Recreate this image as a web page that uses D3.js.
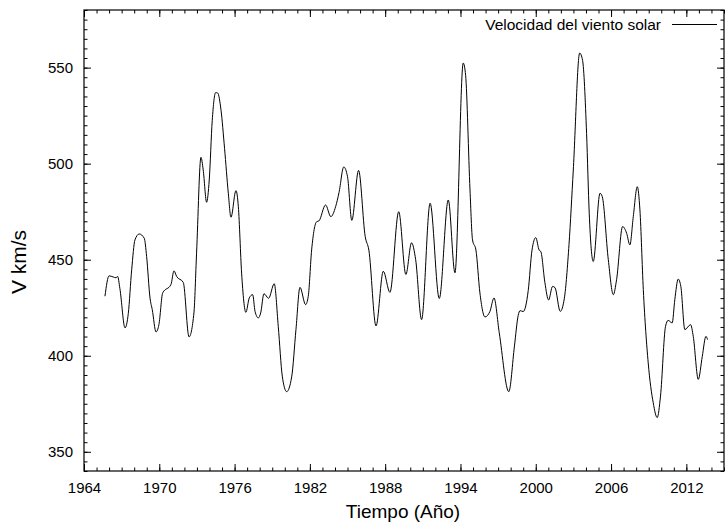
<!DOCTYPE html>
<html>
<head>
<meta charset="utf-8">
<script src="https://cdn.jsdelivr.net/npm/d3@7"></script>
<style>
  body { margin: 0; background: #fff; }
  text { font-family: "Liberation Sans", Arial, Helvetica, sans-serif; }
</style>
</head>
<body>
<svg></svg>
<script>
//svg size
const width = 726;
const height = 523;

//data: solar wind speed
var years = [1965.67, 1966.0, 1966.33, 1966.55, 1966.68, 1966.86, 1967.27, 1967.53, 1967.8, 1968.06,
             1968.4, 1968.8, 1968.99, 1969.26, 1969.44, 1969.74, 1969.97, 1970.27, 1970.93, 1971.17,
             1971.38, 1971.91, 1972.37, 1972.76, 1972.97, 1973.32, 1973.5, 1973.77, 1973.98, 1974.22,
             1974.49, 1974.65, 1974.92, 1975.2, 1975.5, 1975.71, 1976.11, 1976.3, 1976.56, 1976.9,
             1977.17, 1977.44, 1977.63, 1977.89, 1978.08, 1978.34, 1978.71, 1979.16, 1979.48, 1979.8,
             1980.15, 1980.55, 1980.89, 1981.21, 1981.66, 1981.87, 1982.14, 1982.54, 1982.72, 1983.25,
             1983.67, 1984.05, 1984.32, 1984.7, 1985.0, 1985.34, 1985.88, 1986.41, 1986.7, 1987.27,
             1987.85, 1988.38, 1989.08, 1989.65, 1990.1, 1990.43, 1990.9, 1991.58, 1992.31, 1993.03,
             1993.56, 1994.22, 1994.41, 1994.76, 1994.96, 1995.23, 1995.55, 1995.95, 1996.35, 1996.67,
             1997.09, 1997.85, 1998.3, 1998.6, 1998.75, 1999.0, 1999.4, 1999.7, 2000.0, 2000.27,
             2000.4, 2000.73, 2001.02, 2001.34, 2001.53, 2001.95, 2002.28, 2002.65, 2002.99, 2003.5,
             2003.73, 2004.05, 2004.26, 2004.58, 2005.12, 2005.3, 2005.78, 2006.18, 2006.44, 2006.92,
             2007.24, 2007.5, 2007.77, 2008.09, 2008.3, 2008.57, 2008.96, 2009.36, 2009.68, 2009.94,
             2010.34, 2010.55, 2010.87, 2011.08, 2011.35, 2011.56, 2011.88, 2012.34, 2012.55, 2012.95,
             2013.27, 2013.56, 2013.69];
var speed = [431, 441.6, 441, 440.6, 441.3, 435, 414.5, 422, 444.8, 460.3,
             463.4, 461.2, 451.7, 430.1, 424, 412.4, 416.2, 432.7, 437.1, 444.2,
             441.3, 438.2, 409.8, 422.3, 453.4, 503.3, 496.7, 479.9, 491.5, 522.6,
             537, 536.8, 527.8, 508, 484.6, 472.1, 486, 477.6, 443, 422.6,
             430.1, 431.8, 423.1, 419.7, 422.3, 432.3, 429.9, 437.5, 415.3, 389.4,
             381.3, 389, 413.6, 435.6, 426.6, 430.9, 455.1, 469.8, 470.2, 478.5,
             472.4, 477.6, 484.9, 498.3, 493.2, 470.5, 496.5, 462, 455, 415.5,
             444, 433, 475, 442.3, 458.8, 450, 418.8, 479.4, 429.8, 481.1,
             443.2, 552.4, 546, 486.3, 460.3, 455.1, 432.7, 420.2, 423.1, 430.1,
             412, 381.3, 405, 421, 423.5, 423, 434, 455, 461.5, 455,
             454.3, 438, 429, 436.1, 435.5, 423.1, 430, 458, 496.7, 557.6,
             553.8, 515.7, 474.2, 449.1, 484.6, 482.8, 450, 431.8, 439.6, 467.3,
             463.8, 457.7, 472.4, 488, 475.9, 434.4, 396.3, 375.5, 367.8, 379,
             415.3, 418.4, 417.1, 429.2, 439.9, 436.1, 413.6, 416.2, 410.1, 387.7,
             399.7, 410.1, 408.4];

//tick labels
var xTicks = [1964, 1970, 1976, 1982, 1988, 1994, 2000, 2006, 2012];
var yTicks = [350, 400, 450, 500, 550];

//plot box
var plotLeft = 84, plotRight = 724, plotTop = 10, plotBottom = 471;

var svg = d3.select('svg');
svg.attr('width', width)
   .attr('height', height);

//scales
var x = d3.scaleLinear().domain([1964, 2015]).range([plotLeft, plotRight]);
var y = d3.scaleLinear().domain([340, 580]).range([plotBottom, plotTop]);

var minorX = d3.range(1964, 2016, 1);
var minorY = d3.range(340, 581, 5);

var g = svg.append('g');

//major ticks, inward, with labels
g.append('g')
 .attr('transform', 'translate(0,' + plotBottom + ')')
 .call(d3.axisBottom(x).tickValues(xTicks).tickFormat(d3.format('d')).tickSize(-7).tickPadding(11));
g.append('g')
 .attr('transform', 'translate(' + plotLeft + ',0)')
 .call(d3.axisLeft(y).tickValues(yTicks).tickSize(-7).tickPadding(11));

//mirror ticks
g.append('g')
 .attr('transform', 'translate(0,' + plotTop + ')')
 .call(d3.axisTop(x).tickValues(xTicks).tickFormat('').tickSize(-7));
g.append('g')
 .attr('transform', 'translate(' + plotRight + ',0)')
 .call(d3.axisRight(y).tickValues(yTicks).tickFormat('').tickSize(-7));

//minor ticks
g.append('g')
 .attr('transform', 'translate(0,' + plotBottom + ')')
 .call(d3.axisBottom(x).tickValues(minorX).tickFormat('').tickSize(-3.5));
g.append('g')
 .attr('transform', 'translate(0,' + plotTop + ')')
 .call(d3.axisTop(x).tickValues(minorX).tickFormat('').tickSize(-3.5));
g.append('g')
 .attr('transform', 'translate(' + plotLeft + ',0)')
 .call(d3.axisLeft(y).tickValues(minorY).tickFormat('').tickSize(-3.5));
g.append('g')
 .attr('transform', 'translate(' + plotRight + ',0)')
 .call(d3.axisRight(y).tickValues(minorY).tickFormat('').tickSize(-3.5));

g.selectAll('.domain').remove();
g.selectAll('.tick line').attr('stroke', '#000').attr('stroke-width', 1);
g.selectAll('.tick text')
 .attr('fill', '#000')
 .style('font-family', '"Liberation Sans", Arial, sans-serif')
 .style('font-size', '15px');

//border
svg.append('rect')
   .attr('x', plotLeft)
   .attr('y', plotTop)
   .attr('width', plotRight - plotLeft)
   .attr('height', plotBottom - plotTop)
   .attr('fill', 'none')
   .attr('stroke', '#000')
   .attr('stroke-width', 1.2);

//data line
var line = d3.line()
             .x(function(d, i) { return x(years[i]); })
             .y(function(d) { return y(d); })
             .curve(d3.curveMonotoneX);

svg.append('path')
   .attr('d', line(speed))
   .attr('fill', 'none')
   .attr('stroke', '#000')
   .attr('stroke-width', 1);

//legend
svg.append('text')
   .text('Velocidad del viento solar')
   .attr('x', 661)
   .attr('y', 30)
   .attr('text-anchor', 'end')
   .style('font-size', '15.5px');
svg.append('line')
   .attr('x1', 672)
   .attr('x2', 717)
   .attr('y1', 24.5)
   .attr('y2', 24.5)
   .attr('stroke', '#000')
   .attr('stroke-width', 1);

//axis titles
svg.append('text')
   .text('Tiempo (Año)')
   .attr('x', 403)
   .attr('y', 518)
   .attr('text-anchor', 'middle')
   .style('font-size', '19px');
svg.append('text')
   .text('V km/s')
   .attr('transform', 'translate(26,262) rotate(-90)')
   .attr('text-anchor', 'middle')
   .style('font-size', '21px');
</script>
</body>
</html>
